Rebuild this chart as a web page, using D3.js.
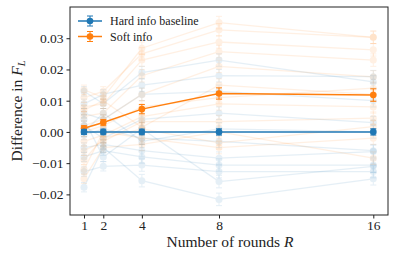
<!doctype html>
<html lang="en">
<head>
<meta charset="UTF-8" />
<title>Difference in F_L vs rounds</title>
<script src="https://cdn.jsdelivr.net/npm/d3@7"></script>
<style>
  body { margin: 0; background: #fff; }
  svg { display: block; }
  text { font-family: "Liberation Serif", "DejaVu Serif", serif; fill: #222; }
</style>
</head>
<body>
<script>
  // rounds on the x axis
  const rounds = [1, 2, 4, 8, 16];
  const yTicks = [-0.02, -0.01, 0.0, 0.01, 0.02, 0.03];

  // mean curves (with error bar half-widths)
  const hardMean = [0.0, 0.0, 0.0, 0.0, 0.0];
  const hardErr = [0.0008, 0.0009, 0.0009, 0.001, 0.001];
  const softMean = [0.0012, 0.003, 0.0073, 0.0123, 0.0118];
  const softErr = [0.0008, 0.0010, 0.0015, 0.0018, 0.0020];

  // individual runs, drawn faint
  const hardRuns = [
    [0.013, 0.009, 0.019, 0.023, 0.016],
    [0.009, 0.012, 0.015, 0.018, 0.0177],
    [0.006, 0.004, 0.012, 0.013, 0.010],
    [0.002, -0.002, 0.004, 0.006, 0.003],
    [-0.001, 0.001, -0.002, -0.003, -0.006],
    [-0.005, -0.004, -0.006, -0.0084, -0.0063],
    [-0.008, -0.006, -0.008, -0.0106, -0.0106],
    [-0.0127, -0.011, -0.0106, -0.0127, -0.0127],
    [-0.0177, -0.005, -0.0156, -0.0216, -0.015],
    [0.004, -0.008, 0.001, -0.0159, -0.011],
    [0.0, 0.006, -0.003, 0.001, 0.0]
  ];
  const softRuns = [
    [0.0135, 0.011, 0.0268, 0.035, 0.0303],
    [0.011, 0.013, 0.025, 0.0327, 0.0303],
    [0.008, 0.009, 0.023, 0.0288, 0.0263],
    [0.005, 0.006, 0.018, 0.0257, 0.023],
    [0.002, 0.004, 0.012, 0.021, 0.0176],
    [0.0, 0.002, 0.008, 0.011, 0.014],
    [-0.003, -0.001, 0.0049, 0.009, 0.008],
    [-0.006, -0.003, 0.0033, 0.0033, 0.0044],
    [-0.009, -0.002, 0.001, -0.0035, 0.0017],
    [-0.012, 0.0, -0.002, -0.005, -0.002],
    [-0.015, -0.005, -0.004, 0.0, -0.0084],
    [0.007, 0.010, 0.0015, 0.015, 0.012]
  ];

  const W = 396, H = 253;
  const margin = { top: 7, right: 8, bottom: 38, left: 70 };
  const blue = "#1f77b4", orange = "#ff7f0e";

  const svg = d3.select("body").append("svg").attr("width", W).attr("height", H);

  const x = d3.scaleLinear().domain([1, 16]).range([84, 373.3]);
  const y = d3.scaleLinear().domain([-0.0266, 0.0400]).range([H - margin.bottom, margin.top]);

  const plot = svg.append("g");

  const line = d3.line().x((d, i) => x(rounds[i])).y((d) => y(d));

  function drawSeries(vals, errs, color, opts) {
    const g = plot.append("g").attr("opacity", opts.opacity);
    g.append("path")
      .attr("d", line(vals))
      .attr("fill", "none")
      .attr("stroke", color)
      .attr("stroke-width", opts.lw);
    vals.forEach((v, i) => {
      const cx = x(rounds[i]);
      const e = errs[i];
      g.append("line")
        .attr("x1", cx).attr("x2", cx)
        .attr("y1", y(v - e)).attr("y2", y(v + e))
        .attr("stroke", color).attr("stroke-width", 1);
      [v - e, v + e].forEach((c) => {
        g.append("line")
          .attr("x1", cx - 3).attr("x2", cx + 3)
          .attr("y1", y(c)).attr("y2", y(c))
          .attr("stroke", color).attr("stroke-width", 1);
      });
      g.append("circle").attr("cx", cx).attr("cy", y(v)).attr("r", opts.r).attr("fill", color);
    });
  }

  const runErr = [0.0015, 0.0015, 0.002, 0.002, 0.002];
  hardRuns.forEach((r) => drawSeries(r, runErr, blue, { opacity: 0.11, lw: 1.3, r: 3.5 }));
  softRuns.forEach((r) => drawSeries(r, runErr, orange, { opacity: 0.11, lw: 1.3, r: 3.5 }));

  drawSeries(softMean, softErr, orange, { opacity: 1, lw: 1.5, r: 3.3 });
  drawSeries(hardMean, hardErr, blue, { opacity: 1, lw: 1.5, r: 3.3 });

  // frame
  svg.append("rect")
    .attr("x", margin.left).attr("y", margin.top)
    .attr("width", W - margin.right - margin.left)
    .attr("height", H - margin.bottom - margin.top)
    .attr("fill", "none").attr("stroke", "#222").attr("stroke-width", 1);

  const fmt = (d) => (d < 0 ? "\u2212" : "") + Math.abs(d).toFixed(2);

  svg.append("g")
    .attr("transform", `translate(0,${H - margin.bottom})`)
    .call(d3.axisBottom(x).tickValues(rounds).tickSize(3.5).tickPadding(2).tickFormat(d3.format("d")))
    .call((g) => g.select(".domain").remove())
    .call((g) => g.selectAll("line").attr("stroke", "#222"))
    .call((g) => g.selectAll("text").attr("font-size", 13.5).attr("fill", "#222")
      .style("font-family", '"Liberation Serif", serif'));

  svg.append("g")
    .attr("transform", `translate(${margin.left},0)`)
    .call(d3.axisLeft(y).tickValues(yTicks).tickSize(3.5).tickPadding(3).tickFormat(fmt))
    .call((g) => g.select(".domain").remove())
    .call((g) => g.selectAll("line").attr("stroke", "#222"))
    .call((g) => g.selectAll("text").attr("font-size", 13.5).attr("fill", "#222")
      .style("font-family", '"Liberation Serif", serif'));

  // axis labels
  const xl = svg.append("text")
    .attr("x", (margin.left + W - margin.right) / 2 + 1).attr("y", 247)
    .attr("text-anchor", "middle").attr("font-size", 15.5);
  xl.append("tspan").text("Number of rounds ");
  xl.append("tspan").attr("font-style", "italic").text("R");

  const yl = svg.append("text")
    .attr("transform", `translate(22,${(margin.top + H - margin.bottom) / 2}) rotate(-90)`)
    .attr("text-anchor", "middle").attr("font-size", 15.5);
  yl.append("tspan").text("Difference in ");
  yl.append("tspan").attr("font-style", "italic").text("F");
  yl.append("tspan").attr("font-style", "italic").attr("font-size", 10.5).attr("dy", 3).text("L");

  // legend
  const legend = svg.append("g").attr("transform", "translate(78,21)");
  const items = [["Hard info baseline", blue], ["Soft info", orange]];
  items.forEach(([label, color], i) => {
    const g = legend.append("g").attr("transform", `translate(0,${i * 15.5})`);
    g.append("line").attr("x1", 0).attr("x2", 24).attr("stroke", color).attr("stroke-width", 1.5);
    g.append("line").attr("x1", 12).attr("x2", 12).attr("y1", -5).attr("y2", 5).attr("stroke", color);
    g.append("line").attr("x1", 9).attr("x2", 15).attr("y1", -5).attr("y2", -5).attr("stroke", color);
    g.append("line").attr("x1", 9).attr("x2", 15).attr("y1", 5).attr("y2", 5).attr("stroke", color);
    g.append("circle").attr("cx", 12).attr("r", 3.3).attr("fill", color);
    g.append("text").attr("x", 32).attr("dy", "0.35em").attr("font-size", 12).text(label);
  });
</script>
</body>
</html>
